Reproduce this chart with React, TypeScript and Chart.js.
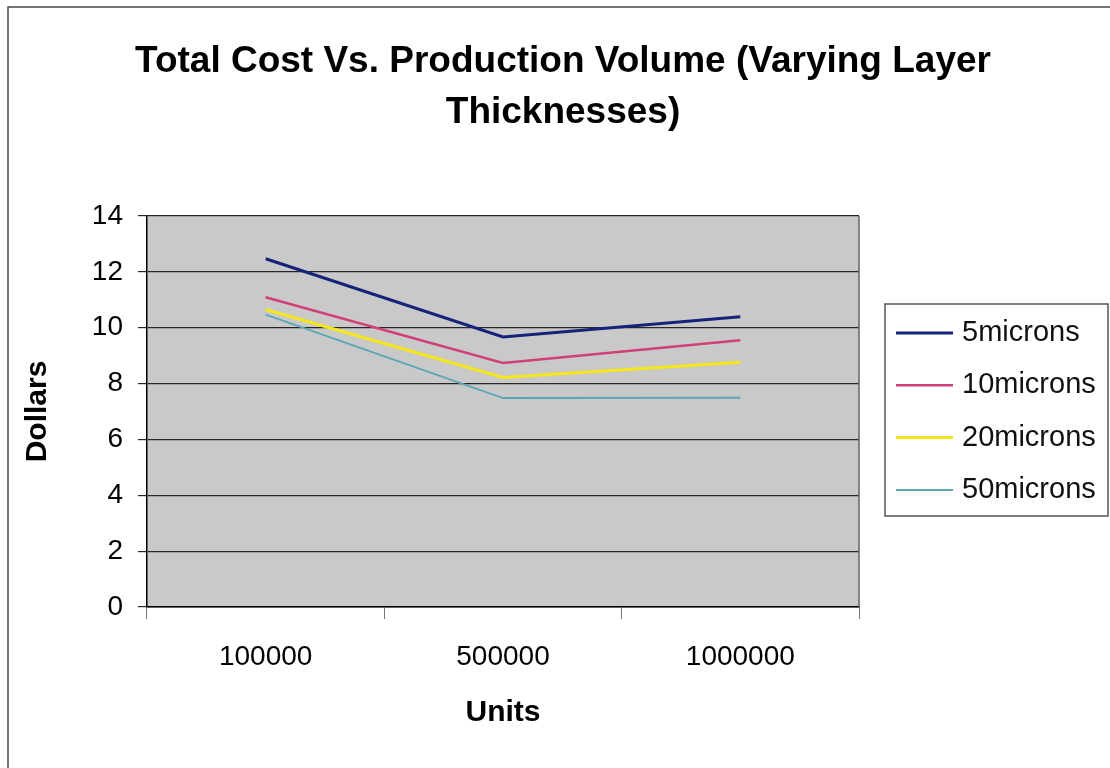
import { useEffect, useRef } from "react";
import { Chart, registerables } from "chart.js";

Chart.register(...registerables);

const categories = ["100000", "500000", "1000000"];
const seriesLabels = ["5microns", "10microns", "20microns", "50microns"];
const microns5 = [12.47, 9.67, 10.39];
const microns10 = [11.09, 8.74, 9.55];
const microns20 = [10.65, 8.22, 8.76];
const microns50 = [10.47, 7.48, 7.49];
const seriesColors = ["#15237a", "#d2407a", "#f4e81c", "#5ea6b4"];
const seriesWidths = [3, 2.5, 3, 2];
const titleLines = ["Total Cost Vs. Production Volume (Varying Layer", "Thicknesses)"];
const yTitle = "Dollars";
const xTitle = "Units";
const yMin = 0;
const yMax = 14;
const yStep = 2;

const FONT = "'Liberation Sans', Arial, sans-serif";

export default function App() {
  const ref = useRef<HTMLCanvasElement>(null);

  useEffect(() => {
    const canvas = ref.current!;
    const decor = {
      id: "decor",
      beforeDraw(chart: any) {
        const { ctx, chartArea: a } = chart;
        ctx.save();
        ctx.fillStyle = "#c9c9c9";
        ctx.fillRect(a.left, a.top, a.right - a.left, a.bottom - a.top);
        ctx.strokeStyle = "#4a4a4a";
        ctx.lineWidth = 1.5;
        ctx.beginPath();
        ctx.moveTo(8, 768);
        ctx.lineTo(8, 7);
        ctx.lineTo(1110, 7);
        ctx.stroke();
        ctx.restore();
      },
      afterDraw(chart: any) {
        const { ctx, chartArea: a } = chart;
        ctx.save();
        ctx.strokeStyle = "#666";
        ctx.lineWidth = 1.5;
        ctx.beginPath();
        ctx.moveTo(a.right, a.top);
        ctx.lineTo(a.right, a.bottom);
        ctx.stroke();
        // legend
        const lx = 885, ly = 304, lw = 223, lh = 212;
        ctx.fillStyle = "#fff";
        ctx.fillRect(lx, ly, lw, lh);
        ctx.strokeStyle = "#555";
        ctx.lineWidth = 1.5;
        ctx.strokeRect(lx, ly, lw, lh);
        ctx.font = `29px ${FONT}`;
        ctx.textBaseline = "middle";
        ctx.textAlign = "left";
        chart.data.datasets.forEach((ds: any, i: number) => {
          const cy = 333 + i * 52.3;
          ctx.strokeStyle = ds.borderColor;
          ctx.lineWidth = ds.borderWidth;
          ctx.beginPath();
          ctx.moveTo(896, cy);
          ctx.lineTo(953, cy);
          ctx.stroke();
          ctx.fillStyle = "#111";
          ctx.fillText(ds.label, 962, cy);
        });
        ctx.restore();
      },
    };

    const chart = new Chart(canvas, {
      type: "line",
      data: {
        labels: categories,
        datasets: [microns5, microns10, microns20, microns50].map((d, i) => ({
          label: seriesLabels[i],
          data: d,
          borderColor: seriesColors[i],
          backgroundColor: seriesColors[i],
          borderWidth: seriesWidths[i],
          pointRadius: 0,
          tension: 0,
          fill: false,
          yAxisID: "y",
          xAxisID: "x",
        })),
      },
      options: {
        responsive: false,
        animation: false,
        devicePixelRatio: 1,
        layout: { padding: { left: 16, top: 0, right: 0, bottom: 0 } },
        plugins: {
          legend: { display: false },
          tooltip: { enabled: false },
          title: {
            display: true,
            text: titleLines,
            color: "#000",
            font: { family: FONT, size: 37, weight: "bold", lineHeight: 51 / 37 },
            padding: { top: 36, bottom: 78 },
          },
        },
        scales: {
          x: {
            type: "category",
            position: "bottom",
            offset: true,
            grid: { offset: true, drawOnChartArea: false, drawTicks: true, tickLength: 12, color: "#777", lineWidth: 1 },
            border: { display: true, color: "#000", width: 1.5 },
            ticks: { color: "#000", font: { family: FONT, size: 28 }, padding: 21, maxRotation: 0, autoSkip: false },
            title: { display: true, text: xTitle, color: "#000", font: { family: FONT, size: 30, weight: "bold" }, padding: { top: 0, bottom: 37 } },
            afterFit: (s: any) => { s.height = 161; },
          },
          y: {
            type: "linear",
            position: "left",
            min: yMin,
            max: yMax,
            ticks: { stepSize: yStep, color: "#000", font: { family: FONT, size: 28 }, padding: 15 },
            grid: { color: "#262626", lineWidth: 1.2, drawTicks: true, tickLength: 9 },
            border: { display: true, color: "#000", width: 1.5 },
            title: { display: true, text: yTitle, color: "#000", font: { family: FONT, size: 30, weight: "bold" }, padding: { top: 4, bottom: 0 } },
            afterFit: (s: any) => { s.width = 131; },
          },
          yr: {
            type: "linear",
            position: "right",
            display: true,
            grid: { display: false, drawTicks: false },
            ticks: { display: false },
            border: { display: false },
            afterFit: (s: any) => { s.width = 251; },
          },
        },
      } as any,
      plugins: [decor],
    });
    return () => chart.destroy();
  }, []);

  return (
    <div style={{ position: "absolute", left: 0, top: 0, width: 1110, height: 768, background: "#fff" }}>
      <canvas ref={ref} width={1110} height={768} style={{ display: "block", width: 1110, height: 768 }} />
    </div>
  );
}
